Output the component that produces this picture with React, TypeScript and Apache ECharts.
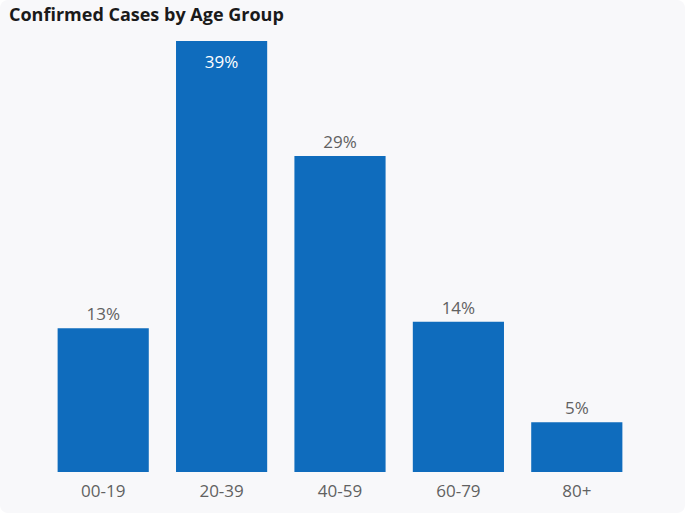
import React, { useEffect, useRef } from "react";
import * as echarts from "echarts";

const categories = ["00-19", "20-39", "40-59", "60-79", "80+"];
const values = [13.0, 39.0, 28.6, 13.6, 4.5];
const valueLabels = ["13%", "39%", "29%", "14%", "5%"];

export default function App() {
  const ref = useRef<HTMLDivElement>(null);
  useEffect(() => {
    document.body.style.margin = "0";
    const chart = echarts.init(ref.current!, null, { renderer: "svg" });
    chart.setOption({
      animation: false,
      title: {
        text: "Confirmed Cases by Age Group",
        left: 4,
        top: 0,
        textStyle: {
          fontFamily: "Open Sans",
          fontWeight: "bold",
          fontSize: 18,
          color: "#1a1a1a",
        },
      },
      grid: { left: 44, right: 52, top: 41, bottom: 43 },
      xAxis: {
        type: "category",
        data: categories,
        axisLine: { show: false },
        axisTick: { show: false },
        axisLabel: {
          color: "#616161",
          fontSize: 17,
          fontFamily: "Open Sans",
          margin: 10,
        },
      },
      yAxis: {
        type: "value",
        min: 0,
        max: 39,
        show: false,
        splitLine: { show: false },
      },
      series: [
        {
          type: "bar",
          data: values.map((v, i) => ({
            value: v,
            label:
              i === 1
                ? { position: "insideTop", color: "#ffffff", distance: 12 }
                : { position: "top", color: "#616161", distance: 6 },
          })),
          barWidth: "77%",
          itemStyle: { color: "#0f6cbd" },
          label: {
            show: true,
            fontSize: 17,
            fontFamily: "Open Sans",
            formatter: (p: any) => valueLabels[p.dataIndex],
          },
        },
      ],
    });
    return () => chart.dispose();
  }, []);
  return (
    <div style={{ width: 688, height: 515, background: "#ffffff", position: "relative" }}>
      <div
        style={{
          position: "absolute",
          left: 0,
          top: 0,
          width: 685,
          height: 513,
          background: "#f8f8fa",
          borderRadius: 8,
        }}
      />
      <div ref={ref} style={{ position: "absolute", left: 0, top: 0, width: 688, height: 515 }} />
    </div>
  );
}
